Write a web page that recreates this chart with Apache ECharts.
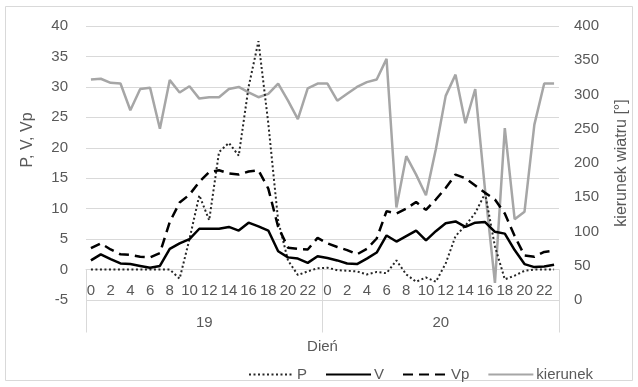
<!DOCTYPE html>
<html>
<head>
<meta charset="utf-8">
<script src="https://cdn.jsdelivr.net/npm/echarts@6/dist/echarts.min.js"></script>
<style>
html,body{margin:0;padding:0;background:#fff;}
#c{width:638px;height:387px;}
</style>
</head>
<body>
<div id="c"></div>
<script>
const days = ['19', '20'];
const hours = ['0','1','2','3','4','5','6','7','8','9','10','11','12','13','14','15','16','17','18','19','20','21','22','23'];
const leftTicks = [-5, 40, 5];   // min, max, step
const rightTicks = [0, 400, 50];

const P19 = [0, 0, 0, 0, 0, 0, 0, 0, 0, -1.5, 5.0, 12.2, 8.1, 19.3, 20.8, 18.7, 30.0, 37.5, 24.0, 8.0, 1.5, -0.9, -0.3, 0.2];
const P20 = [0.3, -0.1, -0.2, -0.3, -0.8, -0.4, -0.6, 1.5, -0.8, -2.0, -1.3, -2.0, 1.0, 5.5, 7.2, 9.3, 12.5, 3.8, -1.6, -1.0, -0.2, 0, 0, 0];
const V19 = [1.5, 2.5, 1.7, 1.0, 0.9, 0.6, 0.3, 0.6, 3.4, 4.3, 5.0, 6.7, 6.7, 6.7, 7.0, 6.4, 7.7, 7.1, 6.4, 3.0, 2.0, 1.8, 1.1, 2.2];
const V20 = [1.9, 1.5, 1.0, 0.9, 1.8, 2.8, 5.6, 4.6, 5.5, 6.4, 4.8, 6.3, 7.6, 7.9, 7.0, 7.7, 7.8, 6.2, 5.9, 3.2, 0.9, 0.4, 0.5, 0.8];
const Vp19 = [3.5, 4.3, 3.3, 2.5, 2.4, 2.1, 2.0, 2.7, 7.8, 11.0, 12.3, 14.4, 16.0, 16.3, 15.8, 15.6, 16.1, 16.3, 13.3, 7.0, 3.6, 3.4, 3.3, 5.2];
const Vp20 = [4.3, 3.7, 3.2, 2.5, 3.4, 5.1, 9.6, 9.2, 10.0, 11.1, 9.8, 11.5, 13.4, 15.6, 15.0, 13.8, 12.6, 11.5, 9.2, 5.5, 2.3, 2.1, 2.9, 3.1];
const K19 = [322, 323, 317, 316, 277, 308, 310, 250, 321, 303, 312, 294, 296, 296, 308, 311, 303, 296, 301, 316, 291, 264, 309, 316];
const K20 = [316, 291, 301, 311, 318, 322, 352, 135, 210, 183, 153, 220, 298, 329, 258, 308, 160, 25, 251, 118, 129, 256, 316, 316];

const categories = days.flatMap(d => hours.map(h => d + '|' + h));
const FONT = 'Liberation Sans';
const TXT = '#595959';
const GRID = '#d9d9d9';

const chart = echarts.init(document.getElementById('c'), null, {renderer: 'canvas'});
chart.setOption({
  backgroundColor: '#ffffff',
  animation: false,
  textStyle: {fontFamily: FONT},
  graphic: [{
    type: 'rect',
    shape: {x: 5.5, y: 6.5, width: 627, height: 374},
    style: {fill: 'none', stroke: GRID, lineWidth: 1},
    silent: true
  }],
  grid: {left: 86, right: 75, top: 26, bottom: 87, containLabel: false},
  legend: {
    left: 243, top: 362,
    itemWidth: 45, itemHeight: 12, itemGap: 18,
    itemStyle: {opacity: 0},
    textStyle: {fontSize: 15, color: TXT, fontFamily: FONT, padding: [0, 0, 0, -2]},
    data: ['P', 'V', 'Vp', 'kierunek']
  },
  xAxis: [{
    type: 'category',
    data: categories,
    position: 'bottom',
    offset: -30.5,
    boundaryGap: true,
    axisLine: {onZero: false, lineStyle: {color: GRID}},
    axisTick: {show: false},
    axisLabel: {
      interval: 1, margin: 14, fontSize: 15, color: TXT, fontFamily: FONT,
      formatter: v => v.split('|')[1]
    },
    splitLine: {show: false}
  }, {
    type: 'category',
    data: days,
    position: 'bottom',
    offset: -30.5,
    boundaryGap: true,
    axisLine: {show: false, onZero: false},
    axisTick: {show: true, length: 63, lineStyle: {color: GRID}},
    axisLabel: {margin: 46, fontSize: 15, color: TXT, fontFamily: FONT},
    name: 'Dień',
    nameLocation: 'middle',
    nameGap: 70,
    nameTextStyle: {fontSize: 15, color: TXT, fontFamily: FONT}
  }],
  yAxis: [{
    type: 'value',
    min: leftTicks[0], max: leftTicks[1], interval: leftTicks[2],
    axisLine: {show: false},
    axisTick: {show: false},
    axisLabel: {margin: 18, fontSize: 15, color: TXT, fontFamily: FONT},
    splitLine: {show: true, lineStyle: {color: GRID, width: 1}},
    name: 'P, V, Vp',
    nameLocation: 'middle',
    nameRotate: 90,
    nameGap: 50,
    nameTextStyle: {fontSize: 16, color: TXT, fontFamily: FONT, padding: [0, 0, 0, 46]}
  }, {
    type: 'value',
    position: 'right',
    min: rightTicks[0], max: rightTicks[1], interval: rightTicks[2],
    axisLine: {show: false},
    axisTick: {show: false},
    axisLabel: {margin: 15, fontSize: 15, color: TXT, fontFamily: FONT},
    splitLine: {show: false},
    name: 'kierunek wiatru [°]',
    nameLocation: 'middle',
    nameRotate: 90,
    nameGap: 55,
    nameTextStyle: {fontSize: 16, color: TXT, fontFamily: FONT}
  }],
  series: [{
    name: 'P', type: 'line', xAxisIndex: 0, yAxisIndex: 0,
    data: P19.concat(P20), symbol: 'none',
    lineStyle: {color: '#262626', width: 2, type: [2, 2.5]},
    itemStyle: {color: '#262626'}, z: 3
  }, {
    name: 'V', type: 'line', xAxisIndex: 0, yAxisIndex: 0,
    data: V19.concat(V20), symbol: 'none',
    lineStyle: {color: '#000000', width: 2.5},
    itemStyle: {color: '#000000'}, z: 4
  }, {
    name: 'Vp', type: 'line', xAxisIndex: 0, yAxisIndex: 0,
    data: Vp19.concat(Vp20), symbol: 'none',
    lineStyle: {color: '#000000', width: 2.5, type: [10, 6]},
    itemStyle: {color: '#000000'}, z: 4
  }, {
    name: 'kierunek', type: 'line', xAxisIndex: 0, yAxisIndex: 1,
    data: K19.concat(K20), symbol: 'none',
    lineStyle: {color: '#a6a6a6', width: 2.5},
    itemStyle: {color: '#a6a6a6'}, z: 2
  }]
});
</script>
</body>
</html>
